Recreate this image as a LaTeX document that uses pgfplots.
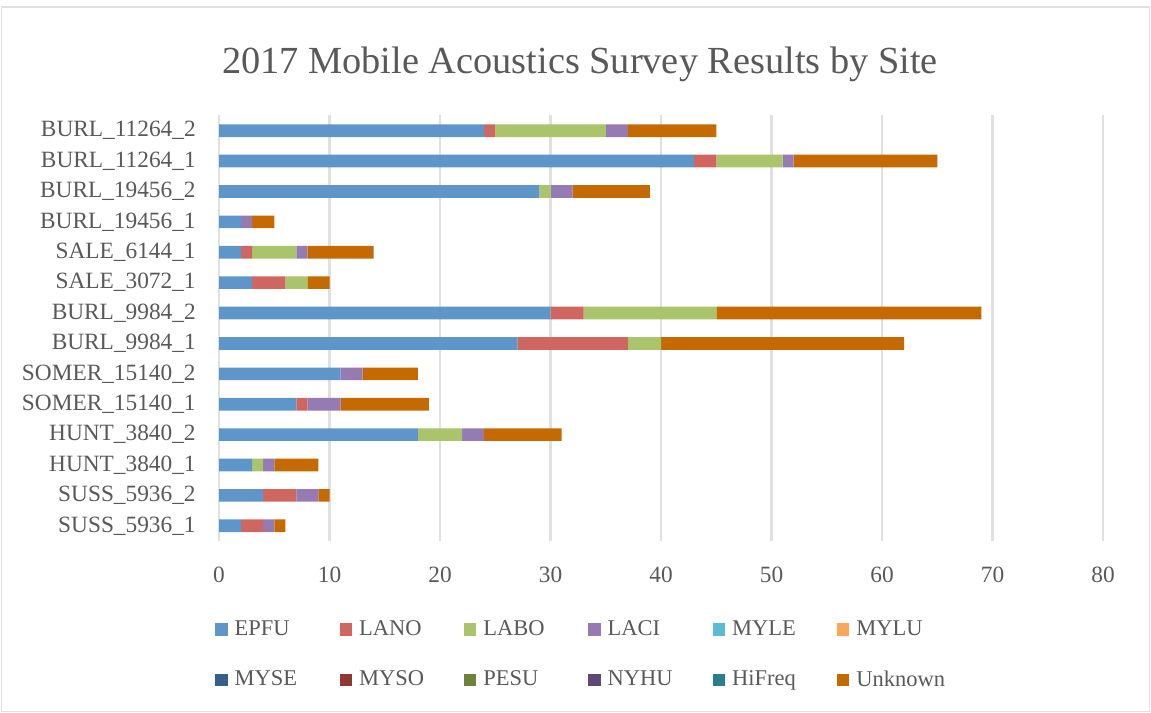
\documentclass[border=0pt]{standalone}
\usepackage{fontspec}
\setmainfont{Liberation Serif}
\usepackage{pgfplots}
\usepackage{pgfplotstable}
\pgfplotsset{compat=1.18}
\definecolor{cEPFU}{HTML}{5F96CA}
\definecolor{cLANO}{HTML}{CF6660}
\definecolor{cLABO}{HTML}{A9C46B}
\definecolor{cLACI}{HTML}{957BB2}
\definecolor{cMYLE}{HTML}{5BBAD4}
\definecolor{cMYLU}{HTML}{F9A85A}
\definecolor{cMYSE}{HTML}{385F8A}
\definecolor{cMYSO}{HTML}{8D3833}
\definecolor{cPESU}{HTML}{6E843C}
\definecolor{cNYHU}{HTML}{5D4A78}
\definecolor{cHiFreq}{HTML}{2D7C8E}
\definecolor{cUnknown}{HTML}{C46A00}
\definecolor{txt}{HTML}{595959}
\definecolor{gridc}{HTML}{E0E0E0}
\pgfplotstableread{
y EPFU LANO LABO LACI MYLE MYLU MYSE MYSO PESU NYHU HiFreq Unknown
0 2 2 0 1 0 0 0 0 0 0 0 1
1 4 3 0 2 0 0 0 0 0 0 0 1
2 3 0 1 1 0 0 0 0 0 0 0 4
3 18 0 4 2 0 0 0 0 0 0 0 7
4 7 1 0 3 0 0 0 0 0 0 0 8
5 11 0 0 2 0 0 0 0 0 0 0 5
6 27 10 3 0 0 0 0 0 0 0 0 22
7 30 3 12 0 0 0 0 0 0 0 0 24
8 3 3 2 0 0 0 0 0 0 0 0 2
9 2 1 4 1 0 0 0 0 0 0 0 6
10 2 0 0 1 0 0 0 0 0 0 0 2
11 29 0 1 2 0 0 0 0 0 0 0 7
12 43 2 6 1 0 0 0 0 0 0 0 13
13 24 1 10 2 0 0 0 0 0 0 0 8
}\data
\newcommand{\lgbox}[1]{\makebox[58.8pt][l]{#1}}
\begin{document}
\begin{tikzpicture}
\path (0,0) rectangle (690.6pt,427.8pt);
\draw[gridc, line width=0.8pt] (0.9pt,0.9pt) rectangle (689.7pt,423.6pt);
\node[anchor=base, font=\fontsize{23}{27}\selectfont, text=txt] at (348pt,383.4pt) {2017 Mobile Acoustics Survey Results by Site};
\begin{axis}[
  at={(131.4pt,103.2pt)}, anchor=south west,
  scale only axis, width=530.4pt, height=255.3pt,
  xbar stacked, bar width=7.6pt,
  xmin=0, xmax=80, xtick={0,10,...,80},
  ymin=-0.5, ymax=13.5, ytick={0,...,13},
  yticklabels={SUSS\_5936\_1,SUSS\_5936\_2,HUNT\_3840\_1,HUNT\_3840\_2,SOMER\_15140\_1,SOMER\_15140\_2,BURL\_9984\_1,BURL\_9984\_2,SALE\_3072\_1,SALE\_6144\_1,BURL\_19456\_1,BURL\_19456\_2,BURL\_11264\_1,BURL\_11264\_2},
  axis line style={draw=none}, major tick length=0pt,
  xmajorgrids, grid style={gridc, line width=1.5pt},
  /pgf/number format/assume math mode=true,
  ticklabel style={font=\fontsize{14}{16}\selectfont, text=txt},
  yticklabel style={inner sep=0pt, xshift=-13.8pt},
  xticklabel style={inner sep=0pt, yshift=-15.6pt},
  every axis plot/.append style={draw=none},
  legend columns=6,
  legend style={draw=none, fill=none, at={(-0.0045,-0.17)}, anchor=north west,
    font=\fontsize{13.5}{16}\selectfont, text=txt, row sep=11.2pt, inner sep=0pt,
    nodes={inner sep=4.2pt}},
  legend image code/.code={\fill[#1] (0pt,-3.7pt) rectangle (7.4pt,3.7pt);},
]
\addplot[fill=cEPFU] table[x=EPFU,y=y]{\data};
\addplot[fill=cLANO] table[x=LANO,y=y]{\data};
\addplot[fill=cLABO] table[x=LABO,y=y]{\data};
\addplot[fill=cLACI] table[x=LACI,y=y]{\data};
\addplot[fill=cMYLE] table[x=MYLE,y=y]{\data};
\addplot[fill=cMYLU] table[x=MYLU,y=y]{\data};
\addplot[fill=cMYSE] table[x=MYSE,y=y]{\data};
\addplot[fill=cMYSO] table[x=MYSO,y=y]{\data};
\addplot[fill=cPESU] table[x=PESU,y=y]{\data};
\addplot[fill=cNYHU] table[x=NYHU,y=y]{\data};
\addplot[fill=cHiFreq] table[x=HiFreq,y=y]{\data};
\addplot[fill=cUnknown] table[x=Unknown,y=y]{\data};
\legend{\lgbox{EPFU},\lgbox{LANO},\lgbox{LABO},\lgbox{LACI},\lgbox{MYLE},\lgbox{MYLU},\lgbox{MYSE},\lgbox{MYSO},\lgbox{PESU},\lgbox{NYHU},\lgbox{HiFreq},\lgbox{Unknown}}
\end{axis}
\pgfresetboundingbox
\useasboundingbox (0,0) rectangle (690.6pt,427.8pt);
\end{tikzpicture}
\end{document}
